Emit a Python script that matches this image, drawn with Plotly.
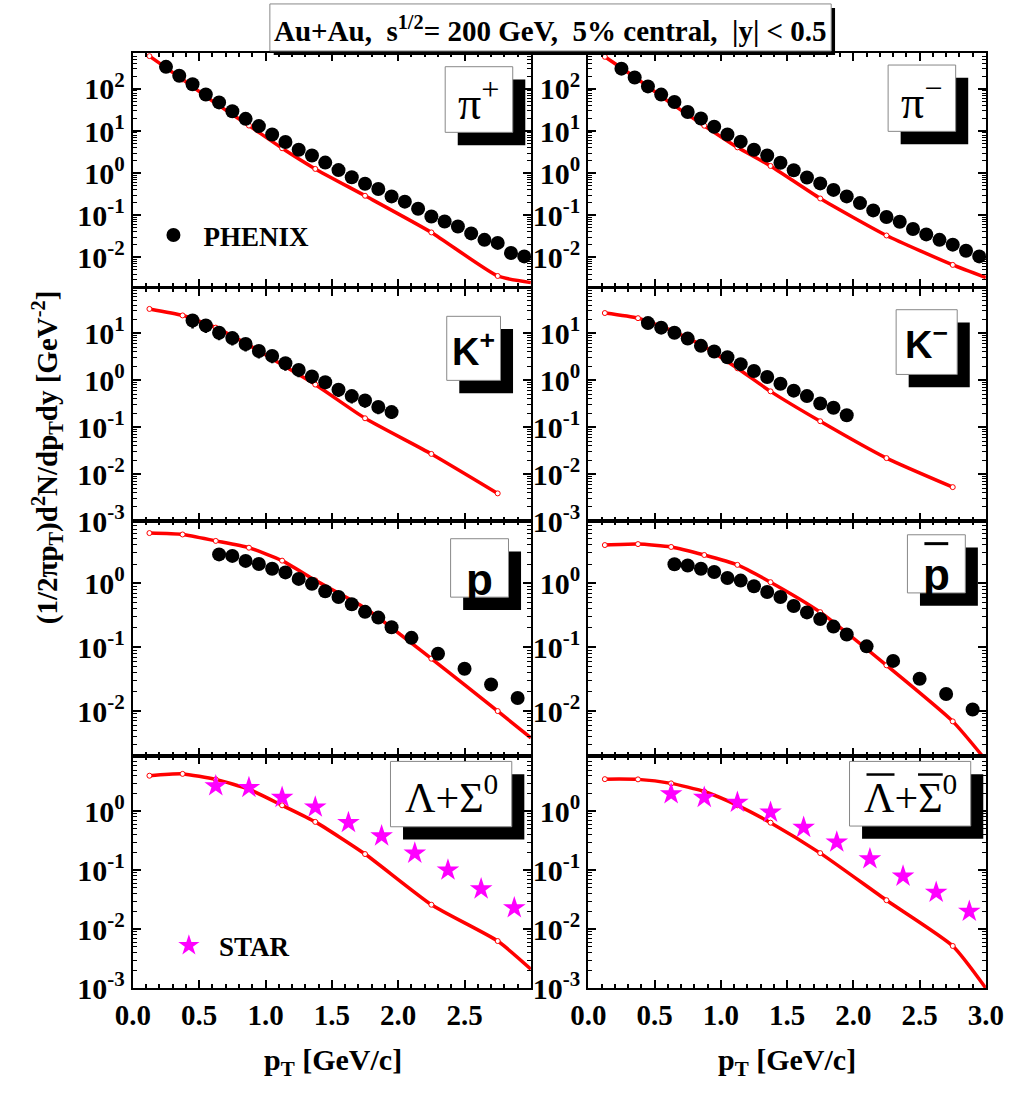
import math
import plotly.graph_objects as go

# ---------------- data ----------------
PI_PT = [0.25, 0.35, 0.45, 0.55, 0.65, 0.75, 0.85, 0.95, 1.05, 1.15, 1.25, 1.35, 1.45, 1.55,
         1.65, 1.75, 1.85, 1.95, 2.05, 2.15, 2.25, 2.35, 2.45, 2.55, 2.65, 2.75, 2.85, 2.95]
PIP_Y = [336, 206, 129, 74, 48, 29.5, 19.5, 13.1, 8.3, 5.5, 3.6, 2.63, 1.78, 1.18,
         0.80, 0.56, 0.42, 0.28, 0.21, 0.142, 0.093, 0.071, 0.054, 0.037, 0.026, 0.022, 0.0127, 0.0105]
PIM_Y = [304, 187, 115, 73.5, 49, 28.4, 19.9, 12.7, 8.3, 5.6, 3.6, 2.62, 1.77, 1.17,
         0.79, 0.57, 0.40, 0.28, 0.194, 0.13, 0.091, 0.07, 0.047, 0.035, 0.026, 0.020, 0.0143, 0.0105]

K_PT = [0.45, 0.55, 0.65, 0.75, 0.85, 0.95, 1.05, 1.15, 1.25, 1.35, 1.45, 1.55, 1.65, 1.75, 1.85, 1.95]
KP_Y = [18.7, 14.7, 10.3, 7.9, 5.9, 4.2, 3.3, 2.3, 1.66, 1.20, 0.91, 0.63, 0.46, 0.37, 0.27, 0.21]
KP_ERR_LOW = [6, 4.5, 3.2, 2.4, 1.8, 1.3, 1.0, 0.7, 0.5, 0.36, 0.27, 0.19, 0.14, 0.11, 0.08, 0.06]
KM_Y = [16.5, 13.2, 10.3, 7.7, 5.4, 4.1, 3.1, 2.2, 1.58, 1.17, 0.84, 0.60, 0.46, 0.32, 0.26, 0.18]

P_PT = [0.65, 0.75, 0.85, 0.95, 1.05, 1.15, 1.25, 1.35, 1.45, 1.55, 1.65, 1.75, 1.85, 1.95,
        2.1, 2.3, 2.5, 2.7, 2.9]
P_Y = [2.83, 2.68, 2.24, 2.0, 1.69, 1.48, 1.17, 0.98, 0.75, 0.61, 0.47, 0.357, 0.29, 0.205,
       0.14, 0.079, 0.046, 0.026, 0.016]
PB_Y = [1.98, 1.90, 1.69, 1.50, 1.21, 1.10, 0.90, 0.73, 0.61, 0.44, 0.35, 0.275, 0.21, 0.158,
        0.103, 0.061, 0.032, 0.0185, 0.0106]

L_PT = [0.625, 0.875, 1.125, 1.375, 1.625, 1.875, 2.125, 2.375, 2.625, 2.875]
L_Y = [2.68, 2.52, 1.71, 1.17, 0.64, 0.38, 0.194, 0.10, 0.048, 0.023]
LB_Y = [1.97, 1.71, 1.41, 0.96, 0.53, 0.30, 0.155, 0.079, 0.042, 0.020]

# model curve: nodes marked with small open circles
MODEL_PT = [0.125, 0.375, 0.625, 0.875, 1.125, 1.375, 1.75, 2.25, 2.75]
PIP_MODEL = [605, 169, 45.5, 13.5, 3.9, 1.26, 0.29, 0.039, 0.0036]
PIM_MODEL = [582, 169, 45.4, 13.4, 4.1, 1.48, 0.25, 0.033, 0.0066]
KP_MODEL = [33, 24, 13.2, 5.6, 2.13, 0.81, 0.155, 0.027, 0.0039]
KM_MODEL = [27, 21, 11.6, 5.2, 1.8, 0.58, 0.134, 0.022, 0.0053]
P_MODEL = [6.1, 5.8, 4.6, 3.6, 2.26, 1.11, 0.41, 0.066, 0.010]
PB_MODEL = [3.96, 4.1, 3.7, 2.77, 1.94, 1.04, 0.353, 0.052, 0.0069]
L_MODEL = [4.0, 4.3, 3.47, 2.36, 1.26, 0.66, 0.188, 0.026, 0.0063]
LB_MODEL = [3.5, 3.47, 2.97, 2.16, 1.26, 0.64, 0.195, 0.031, 0.0052]
# curve value where it leaves the frame at pT = 3.0 (None: curve ends at last node)
EDGE_PT = 3.0
PIP_EDGE, PIM_EDGE = 0.0025, 0.0033
P_EDGE, PB_EDGE = 0.0038, 0.0017
L_EDGE, LB_EDGE = 0.0021, 0.0010

X_TICKS_LEFT = [0.0, 0.5, 1.0, 1.5, 2.0, 2.5]
X_TICKS_RIGHT = [0.0, 0.5, 1.0, 1.5, 2.0, 2.5, 3.0]

TITLE = "Au+Au,\u00a0\u00a0s<sup>1/2</sup>= 200 GeV,\u00a0\u00a05% central,\u00a0\u00a0|y| &lt; 0.5"
Y_TITLE = "(1/2πp<sub>T</sub>)d<sup>2</sup>N/dp<sub>T</sub>dy [GeV<sup>-2</sup>]"
X_TITLE = "p<sub>T</sub> [GeV/c]"

# ---------------- layout helpers ----------------
W, H = 1028, 1096
SERIF = "Liberation Serif, Times New Roman, serif"
SANS = "Liberation Sans, Arial, sans-serif"
RED = "#ff0000"
MAGENTA = "#ff00ff"

COL_PX = [(119, 531.5), (591, 1003)]
ROW_PX = [(54, 291), (292, 529), (529, 767), (767, 1003)]
ROW_RANGE = [(-2.70, 2.85), (-3.003, 1.97), (-2.70, 0.97), (-3.003, 0.94)]
ROW_TICKS = [[0.01, 0.1, 1, 10, 100], [0.001, 0.01, 0.1, 1, 10], [0.01, 0.1, 1], [0.001, 0.01, 0.1, 1]]


def px(x):
    return x / W


def py(y):
    return 1 - y / H


def sup_label(v):
    return "10<sup>%d</sup>" % int(round(math.log10(v)))


fig = go.Figure()

panels = [
    (0, 0, PI_PT, PIP_Y, "phenix", PIP_MODEL, PIP_EDGE, None),
    (0, 1, PI_PT, PIM_Y, "phenix", PIM_MODEL, PIM_EDGE, None),
    (1, 0, K_PT, KP_Y, "phenix", KP_MODEL, None, KP_ERR_LOW),
    (1, 1, K_PT, KM_Y, "phenix", KM_MODEL, None, None),
    (2, 0, P_PT, P_Y, "phenix", P_MODEL, P_EDGE, None),
    (2, 1, P_PT, PB_Y, "phenix", PB_MODEL, PB_EDGE, None),
    (3, 0, L_PT, L_Y, "star", L_MODEL, L_EDGE, None),
    (3, 1, L_PT, LB_Y, "star", LB_MODEL, LB_EDGE, None),
]

minor_vals = [m * 10 ** e for e in range(-4, 4) for m in range(2, 10)]

layout_axes = {}
for i, (r, c, dx, dy, kind, my, edge, err) in enumerate(panels):
    n = i + 1
    xa = "x" if n == 1 else "x%d" % n
    ya = "y" if n == 1 else "y%d" % n

    cx = list(MODEL_PT) + ([EDGE_PT] if edge is not None else [])
    cy = list(my) + ([edge] if edge is not None else [])
    fig.add_trace(go.Scatter(x=cx, y=cy, mode="lines", xaxis=xa, yaxis=ya, showlegend=False,
                             line=dict(color=RED, width=3.5, shape="spline", smoothing=0.55),
                             hoverinfo="skip"))
    fig.add_trace(go.Scatter(x=MODEL_PT, y=my, mode="markers", xaxis=xa, yaxis=ya, showlegend=False,
                             marker=dict(symbol="circle", size=5, color="white",
                                         line=dict(color=RED, width=1))))
    if kind == "phenix":
        tr = go.Scatter(x=dx, y=dy, mode="markers", xaxis=xa, yaxis=ya, name="PHENIX",
                        showlegend=(n == 1), legend="legend",
                        marker=dict(symbol="circle", size=14, color="black"))
        if err is not None:
            tr.error_y = dict(type="data", symmetric=False, array=[0] * len(err), arrayminus=err,
                              color="black", thickness=2.5, width=0)
    else:
        tr = go.Scatter(x=dx, y=dy, mode="markers", xaxis=xa, yaxis=ya, name="STAR",
                        showlegend=(n == 7), legend="legend2",
                        marker=dict(symbol="star", size=17, color=MAGENTA, line=dict(width=0)))
    fig.add_trace(tr)

    x0, x1 = COL_PX[c]
    yt, yb = ROW_PX[r]
    lo, hi = ROW_RANGE[r]
    bottom = (r == 3)
    xt = X_TICKS_LEFT if c == 0 else X_TICKS_RIGHT
    xkey = "xaxis" if n == 1 else "xaxis%d" % n
    ykey = "yaxis" if n == 1 else "yaxis%d" % n
    layout_axes[xkey] = dict(
        domain=[px(x0), px(x1)], range=[0, 3.0], anchor=ya,
        tickmode="array", tickvals=xt, ticktext=["%.1f" % v for v in xt],
        showticklabels=bottom, ticks="inside", ticklen=8, tickwidth=1.5, tickcolor="black",
        minor=dict(ticks="inside", ticklen=4, tickwidth=1.5, tickcolor="black",
                   tickmode="array", tickvals=[k / 10 for k in range(31)]),
        showline=True, linecolor="black", linewidth=2, mirror="ticks",
        showgrid=False, zeroline=False,
        tickfont=dict(family=SERIF, size=29, color="black", weight="bold"),
    )
    layout_axes[ykey] = dict(
        domain=[py(yb), py(yt)], type="log", range=[lo, hi], anchor=xa,
        tickmode="array", tickvals=ROW_TICKS[r], ticktext=[sup_label(v) for v in ROW_TICKS[r]],
        ticks="inside", ticklen=8, tickwidth=1.5, tickcolor="black",
        minor=dict(ticks="inside", ticklen=4, tickwidth=1, tickcolor="black",
                   tickmode="array", tickvals=minor_vals),
        showline=True, linecolor="black", linewidth=2, mirror="ticks",
        showgrid=False, zeroline=False,
        tickfont=dict(family=SERIF, size=30, color="black", weight="bold"),
    )

shapes = []
annotations = []


def box(x0, y0, x1, y1, off=13):
    shapes.append(dict(type="rect", xref="paper", yref="paper", layer="above",
                       x0=px(x0 + off), x1=px(x1 + off), y0=py(y1 + off), y1=py(y0 + off),
                       fillcolor="black", line=dict(width=0)))
    shapes.append(dict(type="rect", xref="paper", yref="paper", layer="above",
                       x0=px(x0), x1=px(x1), y0=py(y1), y1=py(y0),
                       fillcolor="white", line=dict(color="#888888", width=1)))


def label(text, x, y, family, size, bold=False):
    annotations.append(dict(text=text, xref="paper", yref="paper", x=px(x), y=py(y),
                            xanchor="center", yanchor="middle", showarrow=False,
                            font=dict(family=family, size=size, color="black",
                                      weight="bold" if bold else "normal")))


def overline(x0, x1, y, w=3):
    shapes.append(dict(type="line", xref="paper", yref="paper", layer="above",
                       x0=px(x0), x1=px(x1), y0=py(y), y1=py(y), line=dict(color="black", width=w)))


# title box
box(261, 4, 842.7, 51.7, off=4)
label(TITLE, 552, 29, SERIF, 29, bold=True)

# panel labels
box(442.7, 67.7, 512.7, 134.3)
label("π<sup>+</sup>", 477.7, 101, SERIF, 46)
box(901.7, 66, 971.7, 133.3)
label("π<sup>\u2212</sup>", 936.7, 100, SERIF, 46)
box(444.3, 321, 500, 386)
label("K<sup>+</sup>", 472, 354, SANS, 38, bold=True)
box(910, 314.3, 973.3, 380)
label("K<sup>\u2212</sup>", 941.7, 347, SANS, 38, bold=True)
box(448.3, 546.7, 508.3, 606)
label("p", 478.3, 588, SANS, 44, bold=True)
box(921.7, 542.7, 981.7, 601.7)
label("p", 951.7, 583, SANS, 44, bold=True)
overline(939.3, 964, 551.7)
box(386, 772.7, 511.7, 839)
label("Λ+Σ<sup>0</sup>", 448.8, 806, SERIF, 42)
box(861.7, 772.7, 987.3, 838.3)
label("Λ+Σ<sup>0</sup>", 924.5, 806, SERIF, 42)
overline(879.3, 908.3, 786, 2.5)
overline(932.7, 958.3, 786, 2.5)

# axis titles
annotations.append(dict(text=Y_TITLE, xref="paper", yref="paper", x=px(30), y=py(464),
                        textangle=-90, showarrow=False, xanchor="center", yanchor="middle",
                        font=dict(family=SERIF, size=29, color="black", weight="bold")))
for xc in (326, 797):
    annotations.append(dict(text=X_TITLE, xref="paper", yref="paper", x=px(xc), y=py(1078),
                            showarrow=False, xanchor="center", yanchor="middle",
                            font=dict(family=SERIF, size=30, color="black", weight="bold")))

fig.update_layout(
    width=W, height=H, margin=dict(l=0, r=0, t=0, b=0),
    paper_bgcolor="white", plot_bgcolor="white",
    shapes=shapes, annotations=annotations,
    legend=dict(x=px(130), y=py(239), xanchor="left", yanchor="middle", itemwidth=50,
                bgcolor="rgba(0,0,0,0)", borderwidth=0,
                font=dict(family=SERIF, size=27, color="black", weight="bold")),
    legend2=dict(x=px(146), y=py(960), xanchor="left", yanchor="middle", itemwidth=50,
                 bgcolor="rgba(0,0,0,0)", borderwidth=0,
                 font=dict(family=SERIF, size=27, color="black", weight="bold")),
    **layout_axes,
)

fig.write_html("out.html")
